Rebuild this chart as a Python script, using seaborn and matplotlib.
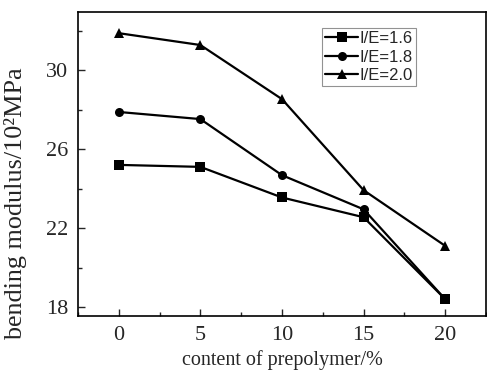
import matplotlib
matplotlib.use("Agg")
import matplotlib.pyplot as plt
from matplotlib.ticker import MultipleLocator
import numpy as np
import pandas as pd
import seaborn as sns

content = [0, 5, 10, 15, 20]
ie_16 = [25.2, 25.1, 23.55, 22.55, 18.4]
ie_18 = [27.88, 27.52, 24.68, 22.95, 18.4]
ie_20 = [31.87, 31.27, 28.53, 23.92, 21.1]
labels = ["I/E=1.6", "I/E=1.8", "I/E=2.0"]

df = pd.DataFrame({
    "content": content * 3,
    "modulus": ie_16 + ie_18 + ie_20,
    "ratio": [labels[0]] * 5 + [labels[1]] * 5 + [labels[2]] * 5,
})

sns.set_style("ticks")
plt.rcParams["font.family"] = ["Liberation Serif", "DejaVu Serif"]

fig = plt.figure(figsize=(4.87, 3.70), dpi=100)
ax = fig.add_axes([0.160, 0.146, 0.838, 0.822])

sns.lineplot(data=df, x="content", y="modulus", hue="ratio", style="ratio",
             markers=["s", "o", "^"], dashes=False, palette=["black"] * 3,
             linewidth=1.6, markersize=6.5, markeredgewidth=0, ax=ax)

ax.set_xlim(-2.5, 22.5)
ax.set_ylim(17.55, 32.95)
ax.set_xticks(content)
ax.set_yticks([18, 22, 26, 30])
ax.xaxis.set_minor_locator(MultipleLocator(2.5))
ax.yaxis.set_minor_locator(MultipleLocator(2))
ax.tick_params(which="both", direction="in", top=False, right=False, width=1)
ax.tick_params(which="major", length=5, labelsize=16, pad=7)
ax.tick_params(which="minor", length=3)
for s in ax.spines.values():
    s.set_visible(True)
    s.set_linewidth(1.2)
    s.set_color("black")

ax.set_xlabel("content of prepolymer/%", fontsize=14.5, labelpad=4)
ax.set_ylabel("bending modulus/10²MPa", fontsize=18.8)
ax.yaxis.set_label_coords(-0.125, 0.372)

leg = ax.legend(loc="upper left", bbox_to_anchor=(0.597, 0.947), frameon=True,
                fancybox=False, edgecolor="#777777", borderpad=0.2,
                handlelength=2.0, handletextpad=0.1, labelspacing=0.2,
                borderaxespad=0, prop={"family": "Liberation Sans", "size": 12})
leg.get_frame().set_linewidth(0.8)

fig.savefig("out.png", dpi=100)
